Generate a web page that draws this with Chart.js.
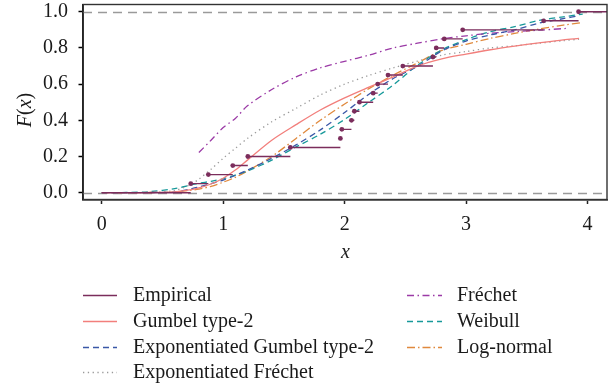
<!DOCTYPE html>
<html lang="en">
<head>
<meta charset="UTF-8">
<title>Empirical vs fitted CDFs</title>
<style>
    html, body { margin: 0; padding: 0; background: #ffffff; }
    #wrap { width: 609px; height: 385px; }
</style>
<script src="https://cdn.jsdelivr.net/npm/chart.js"></script>
</head>
<body>
<div id="wrap"><canvas id="cdfChart" width="609" height="385"></canvas></div>
<script>
// sorted sample, left end of each ECDF step
const sampleX = [0.733, 0.878, 1.079, 1.203, 1.553, 1.965, 1.977, 2.056, 2.080, 2.122,
                 2.235, 2.272, 2.357, 2.479, 2.727, 2.754, 2.820, 2.972, 3.638, 3.926];
const ecdfY = [0.05, 0.10, 0.15, 0.20, 0.25, 0.30, 0.35, 0.40, 0.45, 0.50,
               0.55, 0.60, 0.65, 0.70, 0.75, 0.80, 0.85, 0.90, 0.95, 1.00];

// fitted CDFs
const gridX     = [0, 0.2, 0.4, 0.6, 0.73, 0.8, 0.9, 1.0, 1.1, 1.2, 1.4, 1.6, 1.8, 2.0, 2.2, 2.4, 2.6, 2.8, 3.0, 3.2, 3.4, 3.6, 3.8, 3.93];
const gumbel2   = [0, 0, 0.001, 0.004, 0.016, 0.026, 0.048, 0.08, 0.125, 0.18, 0.29, 0.376, 0.457, 0.524, 0.583, 0.64, 0.70, 0.74, 0.766, 0.79, 0.81, 0.828, 0.845, 0.853];
const expGumbel = [0, 0, 0.001, 0.004, 0.02, 0.032, 0.05, 0.07, 0.095, 0.125, 0.19, 0.264, 0.347, 0.443, 0.544, 0.631, 0.698, 0.783, 0.838, 0.872, 0.90, 0.937, 0.962, 0.978];
const expFrechet= [0, 0, 0.001, 0.012, 0.045, 0.075, 0.13, 0.19, 0.245, 0.30, 0.392, 0.466, 0.54, 0.60, 0.648, 0.69, 0.727, 0.76, 0.78, 0.80, 0.812, 0.826, 0.84, 0.848];
const weibull   = [0, 0.001, 0.006, 0.022, 0.042, 0.052, 0.063, 0.077, 0.097, 0.12, 0.18, 0.253, 0.323, 0.405, 0.50, 0.595, 0.705, 0.789, 0.846, 0.89, 0.918, 0.952, 0.972, 0.987];
const logNormal = [0, 0, 0.001, 0.004, 0.013, 0.02, 0.035, 0.058, 0.085, 0.12, 0.20, 0.30, 0.40, 0.49, 0.575, 0.65, 0.717, 0.786, 0.82, 0.853, 0.88, 0.905, 0.926, 0.94];

const frechetX  = [0.8, 0.9, 1.0, 1.1, 1.2, 1.4, 1.6, 1.8, 2.0, 2.2, 2.4, 2.6, 2.8, 3.0, 3.2, 3.4, 3.6, 3.83];
const frechet   = [0.222, 0.29, 0.36, 0.41, 0.48, 0.57, 0.64, 0.69, 0.726, 0.76, 0.80, 0.826, 0.85, 0.867, 0.881, 0.89, 0.898, 0.908];

const xTicks = [0, 1, 2, 3, 4];
const yTicks = [0, 0.2, 0.4, 0.6, 0.8, 1.0];
const refLevels = [0, 1];
const X_MIN = -0.154, X_MAX = 4.16;

const SERIF = "'Liberation Serif', 'DejaVu Serif', serif";

function pairs(xs, ys) {
    return xs.map((x, i) => ({ x: x, y: ys[i] }));
}

// ECDF as separate horizontal steps, dot at the left end
function ecdfSegments() {
    const out = [{ x: 0, y: 0 }, { x: sampleX[0], y: 0 }, { x: sampleX[0], y: null }];
    for (let i = 0; i < sampleX.length; i++) {
        const end = i + 1 < sampleX.length ? sampleX[i + 1] : X_MAX;
        out.push({ x: sampleX[i], y: ecdfY[i], dot: true });
        out.push({ x: end, y: ecdfY[i] });
        out.push({ x: end, y: null });
    }
    return out;
}

function curve(label, color, dash, data, width) {
    return {
        label: label, data: data, borderColor: color, backgroundColor: color,
        borderDash: dash, borderWidth: width || 1.3, pointRadius: 0,
        tension: 0.3, fill: false
    };
}

const datasets = [
    {
        label: 'Empirical', data: ecdfSegments(), borderColor: '#7b2d5c',
        backgroundColor: '#7b2d5c', borderWidth: 1.4, borderDash: [],
        pointRadius: c => (c.raw && c.raw.dot ? 2.4 : 0),
        pointBorderWidth: 0, pointBackgroundColor: '#7b2d5c', fill: false
    },
    curve('Gumbel type-2', '#f27f7c', [], pairs(gridX, gumbel2)),
    curve('Exponentiated Gumbel type-2', '#3a57a7', [6, 4], pairs(gridX, expGumbel)),
    curve('Exponentiated Fréchet', '#9a9a9a', [1.3, 3.5], pairs(gridX, expFrechet)),
    curve('Fréchet', '#9b3aa6', [7, 3.5, 1.5, 3.5], pairs(frechetX, frechet)),
    curve('Weibull', '#17999a', [6, 4], pairs(gridX.slice(0, -1).concat([3.96]), weibull)),
    curve('Log-normal', '#e0893d', [8, 3, 1.5, 3], pairs(gridX.slice(0, -1).concat([3.95]), logNormal))
];

// legend: column-major, 4 rows then 3
const legendCols = [{ x0: 83, x1: 117, tx: 133 }, { x0: 407, x1: 442, tx: 457 }];
const legendRows = [295, 321, 347, 372];

const extras = {
    id: 'extras',
    beforeDatasetsDraw(chart) {
        const { ctx, chartArea: a, scales: { y } } = chart;
        ctx.save();
        ctx.strokeStyle = '#9a9a9a';
        ctx.lineWidth = 1.3;
        ctx.setLineDash([9, 6]);
        refLevels.forEach(v => {
            const py = Math.round(y.getPixelForValue(v)) + 0.5;
            ctx.beginPath();
            ctx.moveTo(a.left, py);
            ctx.lineTo(a.right, py);
            ctx.stroke();
        });
        ctx.restore();
    },
    afterDraw(chart) {
        const { ctx, chartArea: a } = chart;
        ctx.save();
        // panel border
        ctx.strokeStyle = '#333333';
        ctx.lineWidth = 1.4;
        ctx.strokeRect(a.left, a.top, a.right - a.left, a.bottom - a.top);

        // x title
        ctx.fillStyle = '#1a1a1a';
        ctx.textAlign = 'center';
        ctx.textBaseline = 'middle';
        ctx.font = 'italic 20px ' + SERIF;
        ctx.fillText('x', (a.left + a.right) / 2 + 0.5, 253);

        // y title F(x), italic letters and upright brackets
        const parts = [['F', 'italic '], ['(', ''], ['x', 'italic '], [')', '']];
        ctx.translate(26, 110);
        ctx.rotate(-Math.PI / 2);
        let total = 0;
        parts.forEach(p => { ctx.font = p[1] + '20px ' + SERIF; total += ctx.measureText(p[0]).width; });
        let cx = -total / 2;
        ctx.textAlign = 'left';
        parts.forEach(p => {
            ctx.font = p[1] + '20px ' + SERIF;
            ctx.fillText(p[0], cx, 0);
            cx += ctx.measureText(p[0]).width;
        });
        ctx.restore();

        // legend
        ctx.save();
        ctx.font = '20px ' + SERIF;
        ctx.textBaseline = 'middle';
        ctx.textAlign = 'left';
        chart.data.datasets.forEach((ds, i) => {
            const col = legendCols[i < 4 ? 0 : 1];
            const row = legendRows[i < 4 ? i : i - 4];
            ctx.strokeStyle = ds.borderColor;
            ctx.lineWidth = 1.3;
            ctx.setLineDash(ds.borderDash || []);
            ctx.beginPath();
            ctx.moveTo(col.x0, row + 0.5);
            ctx.lineTo(col.x1, row + 0.5);
            ctx.stroke();
            ctx.setLineDash([]);
            ctx.fillStyle = '#1a1a1a';
            ctx.fillText(ds.label, col.tx, row + 1);
        });
        ctx.restore();
    }
};

new Chart(document.getElementById('cdfChart'), {
    type: 'line',
    data: { datasets: datasets },
    plugins: [extras],
    options: {
        responsive: false,
        animation: false,
        devicePixelRatio: 1,
        layout: { padding: { left: 0, right: 2, top: 4.5, bottom: 121.5 } },
        plugins: { legend: { display: false }, tooltip: { enabled: false } },
        scales: {
            x: {
                type: 'linear', min: X_MIN, max: X_MAX,
                afterBuildTicks: s => { s.ticks = xTicks.map(v => ({ value: v })); },
                afterFit: s => { s.height = 64; s.paddingLeft = 0; s.paddingRight = 0; },
                ticks: { color: '#1a1a1a', padding: 9, font: { family: SERIF, size: 20 }, callback: v => String(v) },
                grid: { drawOnChartArea: false, drawTicks: true, tickLength: 4.5, tickColor: '#222', tickWidth: 1.5 },
                border: { display: true, color: '#444', width: 1.8 }
            },
            y: {
                type: 'linear', min: -0.0376, max: 1.04,
                afterBuildTicks: s => { s.ticks = yTicks.map(v => ({ value: v })); },
                afterFit: s => { s.width = 83; s.paddingTop = 0; s.paddingBottom = 0; },
                ticks: { color: '#1a1a1a', padding: 10.5, font: { family: SERIF, size: 20 }, callback: v => v.toFixed(1) },
                grid: { drawOnChartArea: false, drawTicks: true, tickLength: 4.5, tickColor: '#000', tickWidth: 1.5 },
                border: { display: true, color: '#000', width: 1.8 }
            }
        }
    }
});
</script>
</body>
</html>
